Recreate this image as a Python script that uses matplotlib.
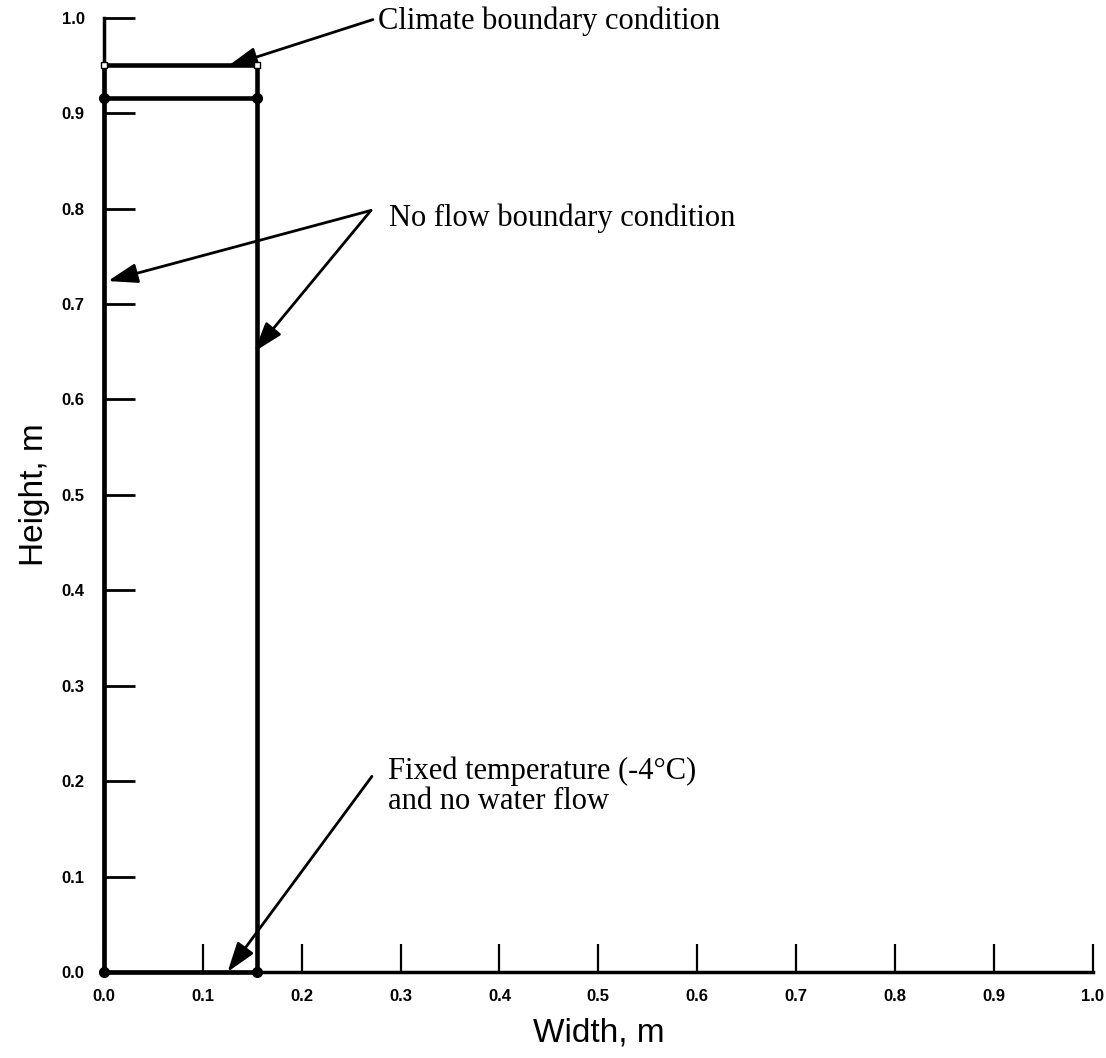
import matplotlib.pyplot as plt
from matplotlib.ticker import FormatStrFormatter

# geometria de la columna (m)
box_x = [0.0, 0.155, 0.155, 0.0, 0.0]
box_y = [0.0, 0.0, 0.95, 0.95, 0.0]
layer_x = [0.0, 0.155]
layer_y = [0.916, 0.916]
node_x = [0.0, 0.155, 0.0, 0.155]
node_y = [0.0, 0.0, 0.916, 0.916]
top_x = [0.0, 0.155]
top_y = [0.95, 0.95]

ticks = [0.0, 0.1, 0.2, 0.3, 0.4, 0.5, 0.6, 0.7, 0.8, 0.9, 1.0]

fig = plt.figure(figsize=(11.06, 10.58), dpi=100)
ax = fig.add_axes([0.094, 0.0813, 0.894, 0.902])

ax.plot(box_x, box_y, color="black", lw=3.3, clip_on=False, zorder=3)
ax.plot(layer_x, layer_y, color="black", lw=3.3, clip_on=False, zorder=3)
ax.plot(node_x, node_y, "o", color="black", ms=7, clip_on=False, zorder=4)
ax.plot(top_x, top_y, "s", mfc="white", mec="black", ms=4, mew=1,
        clip_on=False, zorder=4)

ax.set_xlim(0, 1.0)
ax.set_ylim(0, 1.0)

# quitar bordes
ax.spines["top"].set_visible(False)
ax.spines["right"].set_visible(False)
ax.spines["left"].set_linewidth(2.5)
ax.spines["bottom"].set_linewidth(2.5)

ax.set_xticks(ticks)
ax.set_yticks(ticks)
ax.xaxis.set_major_formatter(FormatStrFormatter("%.1f"))
ax.yaxis.set_major_formatter(FormatStrFormatter("%.1f"))
ax.tick_params(axis="x", direction="in", length=20, width=1.6, pad=12)
ax.tick_params(axis="y", direction="in", length=22, width=2, pad=14)
for lab in ax.get_xticklabels() + ax.get_yticklabels():
    lab.set_fontfamily("Liberation Sans")
    lab.set_fontweight("bold")
    lab.set_fontsize(12)

ax.set_xlabel("Width, m", fontsize=24, family="Liberation Sans", labelpad=10)
ax.set_ylabel("Height, m", fontsize=24, family="Liberation Sans", labelpad=8)

flecha = dict(arrowstyle="-|>,head_length=0.6,head_width=0.2",
              mutation_scale=30, lw=2, color="black", shrinkA=0, shrinkB=0)
texto = dict(fontsize=22, family="Liberation Serif", va="center", ha="left")

ax.annotate("", xy=(0.125, 0.949), xytext=(0.272, 0.998), arrowprops=flecha)
ax.text(0.277, 0.996, "Climate boundary condition", **texto)

ax.annotate("", xy=(0.004, 0.724), xytext=(0.27, 0.798), arrowprops=flecha)
ax.annotate("", xy=(0.152, 0.65), xytext=(0.27, 0.798), arrowprops=flecha)
ax.text(0.288, 0.79, "No flow boundary condition", **texto)

ax.annotate("", xy=(0.125, 0.0), xytext=(0.271, 0.205), arrowprops=flecha)
ax.text(0.287, 0.21, "Fixed temperature (-4°C)", **texto)
ax.text(0.287, 0.179, "and no water flow", **texto)

plt.savefig("out.png", dpi=100)
plt.close()
